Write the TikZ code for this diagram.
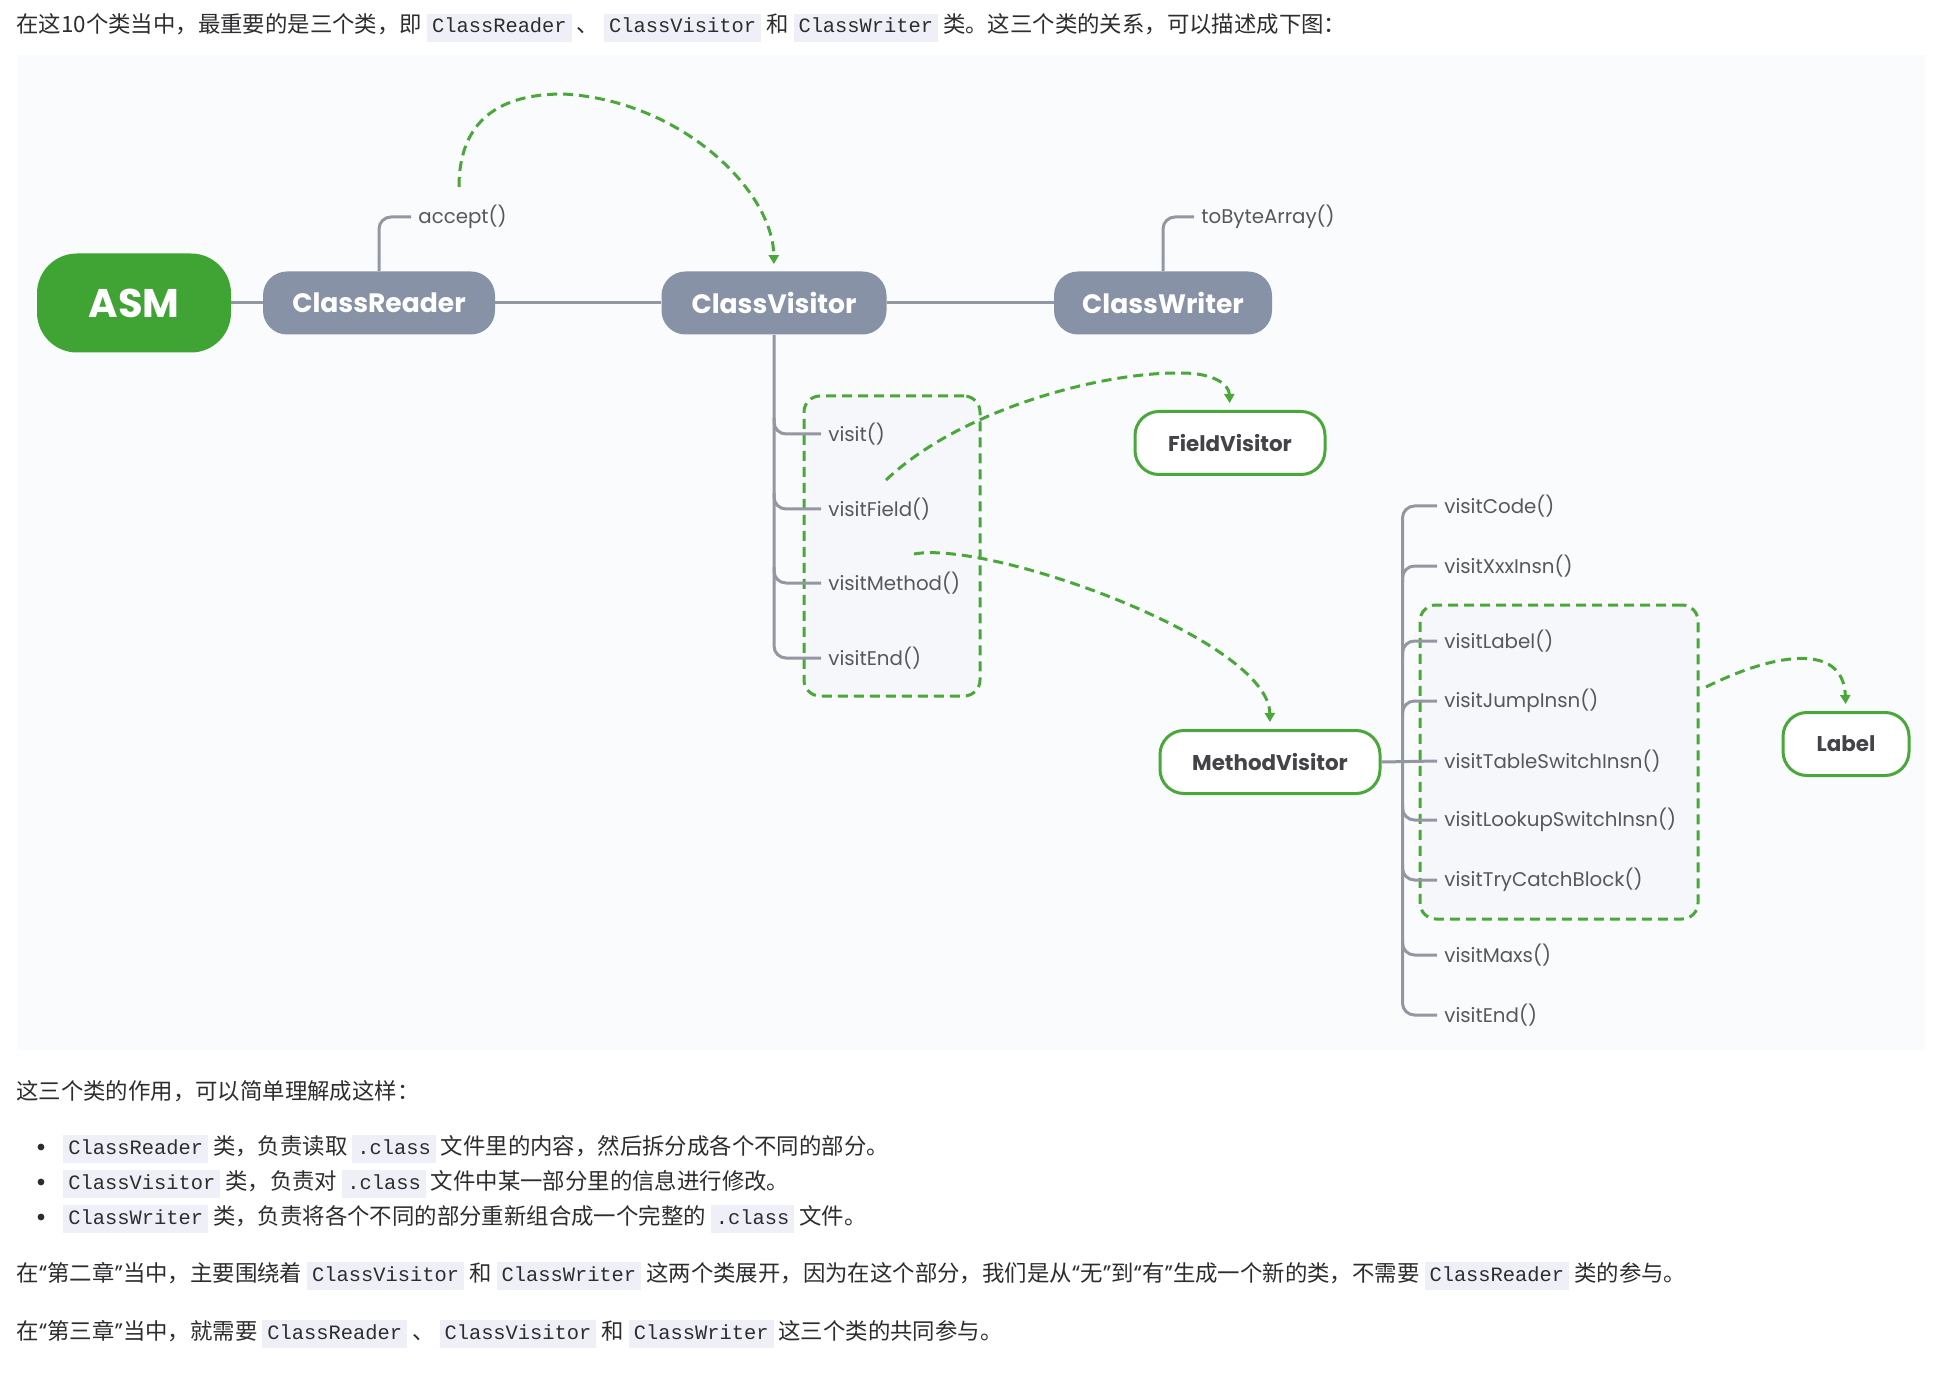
\documentclass[tikz,border=0pt]{standalone}
\usepackage{fontspec}
\setmainfont{Poppins}
\setmonofont{Liberation Mono}
\newfontfamily\cjk{Noto Sans CJK SC}
\usetikzlibrary{positioning, arrows.meta, calc}

\definecolor{asmgreen}{RGB}{64,164,52}
\definecolor{linkgreen}{RGB}{74,168,58}
\definecolor{classgray}{RGB}{136,146,166}
\definecolor{linegray}{RGB}{146,151,163}
\definecolor{labelgray}{RGB}{88,88,92}
\definecolor{darktext}{RGB}{68,68,72}
\definecolor{bodytext}{RGB}{45,45,48}
\definecolor{codebg}{RGB}{239,240,247}
\definecolor{panelbg}{RGB}{250,251,252}
\definecolor{boxbg}{RGB}{246,247,250}

\newcommand\code[1]{{\fontsize{10.2}{12}\selectfont\setlength{\fboxsep}{1pt}\colorbox{codebg}{\hspace{1.5pt}\ttfamily\strut#1\hspace{1.5pt}}}}
\newcommand\quo[1]{{\normalfont“}#1{\normalfont”}}

\tikzset{
	every class/.style={
		rounded corners=12pt,
		fill=classgray,
		text=white,
		font=\fontsize{13.3}{16}\selectfont\bfseries,
		minimum height=31.5pt
	},
	asm/.style={
		rounded corners=20pt,
		fill=asmgreen,
		text=white,
		font=\fontsize{20}{24}\selectfont\bfseries,
		minimum width=97pt,
		minimum height=49.5pt
	},
	visitor/.style={
		rounded corners=12pt,
		draw=linkgreen,
		line width=1.5pt,
		fill=white,
		text=darktext,
		font=\fontsize{10.7}{13}\selectfont\bfseries,
		minimum height=31.5pt
	},
	method/.style={
		anchor=west,
		inner xsep=3.5pt,
		text=labelgray,
		font=\fontsize{9.9}{12}\selectfont
	},
	branch/.style={draw=linegray, line width=1.5pt, rounded corners=6pt},
	flow/.style={
		draw=linkgreen,
		line width=1.5pt,
		dash pattern=on 5pt off 3pt,
		-{Triangle[width=5pt,length=4.5pt]},
		shorten >=3.5pt
	},
	group/.style={
		draw=linkgreen,
		line width=1.5pt,
		dash pattern=on 5pt off 3pt,
		rounded corners=8pt,
		fill=boxbg
	},
	para/.style={
		anchor=base west,
		inner sep=0pt,
		text=bodytext,
		font=\fontsize{11.2}{13}\selectfont\cjk
	},
	bullet/.style={circle, fill=bodytext, inner sep=0pt, minimum size=3.4pt},
}

\begin{document}
\begin{tikzpicture}[x=0.5pt, y=-0.5pt]

\path[use as bounding box, fill=white] (0,0) rectangle (1955,1374);
\fill[panelbg] (18,55) rectangle (1925,1050);

\node[para] (intro) at (16,33) {在这10个类当中，最重要的是三个类，即 \code{ClassReader} 、 \code{ClassVisitor} 和 \code{ClassWriter} 类。这三个类的关系，可以描述成下图：};

\node[asm] (asm) at (134,303) {ASM};
\node[every class, minimum width=116pt] (reader) at (379,303) {ClassReader};
\node[every class, minimum width=112.5pt] (visitor) at (774,303) {ClassVisitor};
\node[every class, minimum width=109pt] (writer) at (1163,303) {ClassWriter};

\draw[branch] (asm) -- (reader) -- (visitor) -- (writer);

\node[method] (accept) at (411,217) {accept()};
\node[method] (tobytes) at (1194,217) {toByteArray()};
\draw[branch] (reader.north) |- (accept.west);
\draw[branch] (writer.north) |- (tobytes.west);

\coordinate (acceptout) at (459,187);
\draw[flow] (acceptout) .. controls (459,120) and (500,94) .. (563,94)
	.. controls (680,100) and (773,190) .. (visitor.north);

\node[group, minimum width=88pt, minimum height=150pt] (cvbox) at (892,546) {};

\foreach \y/\name/\txt in {434/cvvisit/visit(), 509/cvfield/visitField(), 583/cvmethod/visitMethod(), 658/cvend/visitEnd()}
	\node[method] (\name) at (821,\y) {\txt};

\draw[branch] (visitor.south) |- (cvend.west);
\foreach \name in {cvvisit, cvfield, cvmethod}
	\draw[branch] ($(visitor.south |- \name.west)+(0,-16)$) |- (\name.west);

\node[visitor, minimum width=95pt] (field) at (1230,443) {FieldVisitor};
\node[visitor, minimum width=110pt] (method) at (1270,762) {MethodVisitor};
\node[visitor, minimum width=63pt] (label) at (1846,744) {Label};

\coordinate (fieldout) at (886,480);
\draw[flow] (fieldout) .. controls (960,410) and (1100,372) .. (1181,373)
	.. controls (1215,373) and (1229,385) .. (field.north);

\coordinate (methodout) at (914,554);
\draw[flow] (methodout) .. controls (990,540) and (1269,640) .. (method.north);

\node[group, minimum width=139pt, minimum height=157pt] (mvbox) at (1559,762) {};

\foreach \y/\name/\txt in {506/mvcode/visitCode(), 566/mvxxx/visitXxxInsn(), 641/mvlabel/visitLabel(), 701/mvjump/visitJumpInsn(), 761/mvtable/visitTableSwitchInsn(), 820/mvlookup/visitLookupSwitchInsn(), 880/mvtry/visitTryCatchBlock(), 955/mvmaxs/visitMaxs(), 1015/mvend/visitEnd()}
	\node[method] (\name) at (1437,\y) {\txt};

\coordinate (mvtrunk) at ($(method.east)+(21,0)$);
\draw[branch] (method.east) -- (mvtable.west);
\draw[branch] (mvcode.west) -| (mvtrunk) |- (mvend.west);
\foreach \name in {mvxxx, mvlabel, mvjump}
	\draw[branch] ($(mvtrunk |- \name.west)+(0,16)$) |- (\name.west);
\foreach \name in {mvlookup, mvtry, mvmaxs}
	\draw[branch] ($(mvtrunk |- \name.west)+(0,-16)$) |- (\name.west);

\coordinate (labelout) at (1706,687);
\draw[flow] (labelout) .. controls (1770,655) and (1843,640) .. (label.north);

\node[para] (roles) at (16,1099) {这三个类的作用，可以简单理解成这样：};

\foreach \y/\txt [count=\i] in {1154/{\code{ClassReader} 类，负责读取 \code{.class} 文件里的内容，然后拆分成各个不同的部分。}, 1189/{\code{ClassVisitor} 类，负责对 \code{.class} 文件中某一部分里的信息进行修改。}, 1224/{\code{ClassWriter} 类，负责将各个不同的部分重新组合成一个完整的 \code{.class} 文件。}}
{
	\node[bullet] (dot\i) at (41,\y-7) {};
	\node[para] (item\i) at (63,\y) {\txt};
}

\node[para] (chap2) at (16,1281) {在\quo{第二章}当中，主要围绕着 \code{ClassVisitor} 和 \code{ClassWriter} 这两个类展开，因为在这个部分，我们是从\quo{无}到\quo{有}生成一个新的类，不需要 \code{ClassReader} 类的参与。};
\node[para] (chap3) at (16,1339) {在\quo{第三章}当中，就需要 \code{ClassReader} 、 \code{ClassVisitor} 和 \code{ClassWriter} 这三个类的共同参与。};

\end{tikzpicture}
\end{document}
